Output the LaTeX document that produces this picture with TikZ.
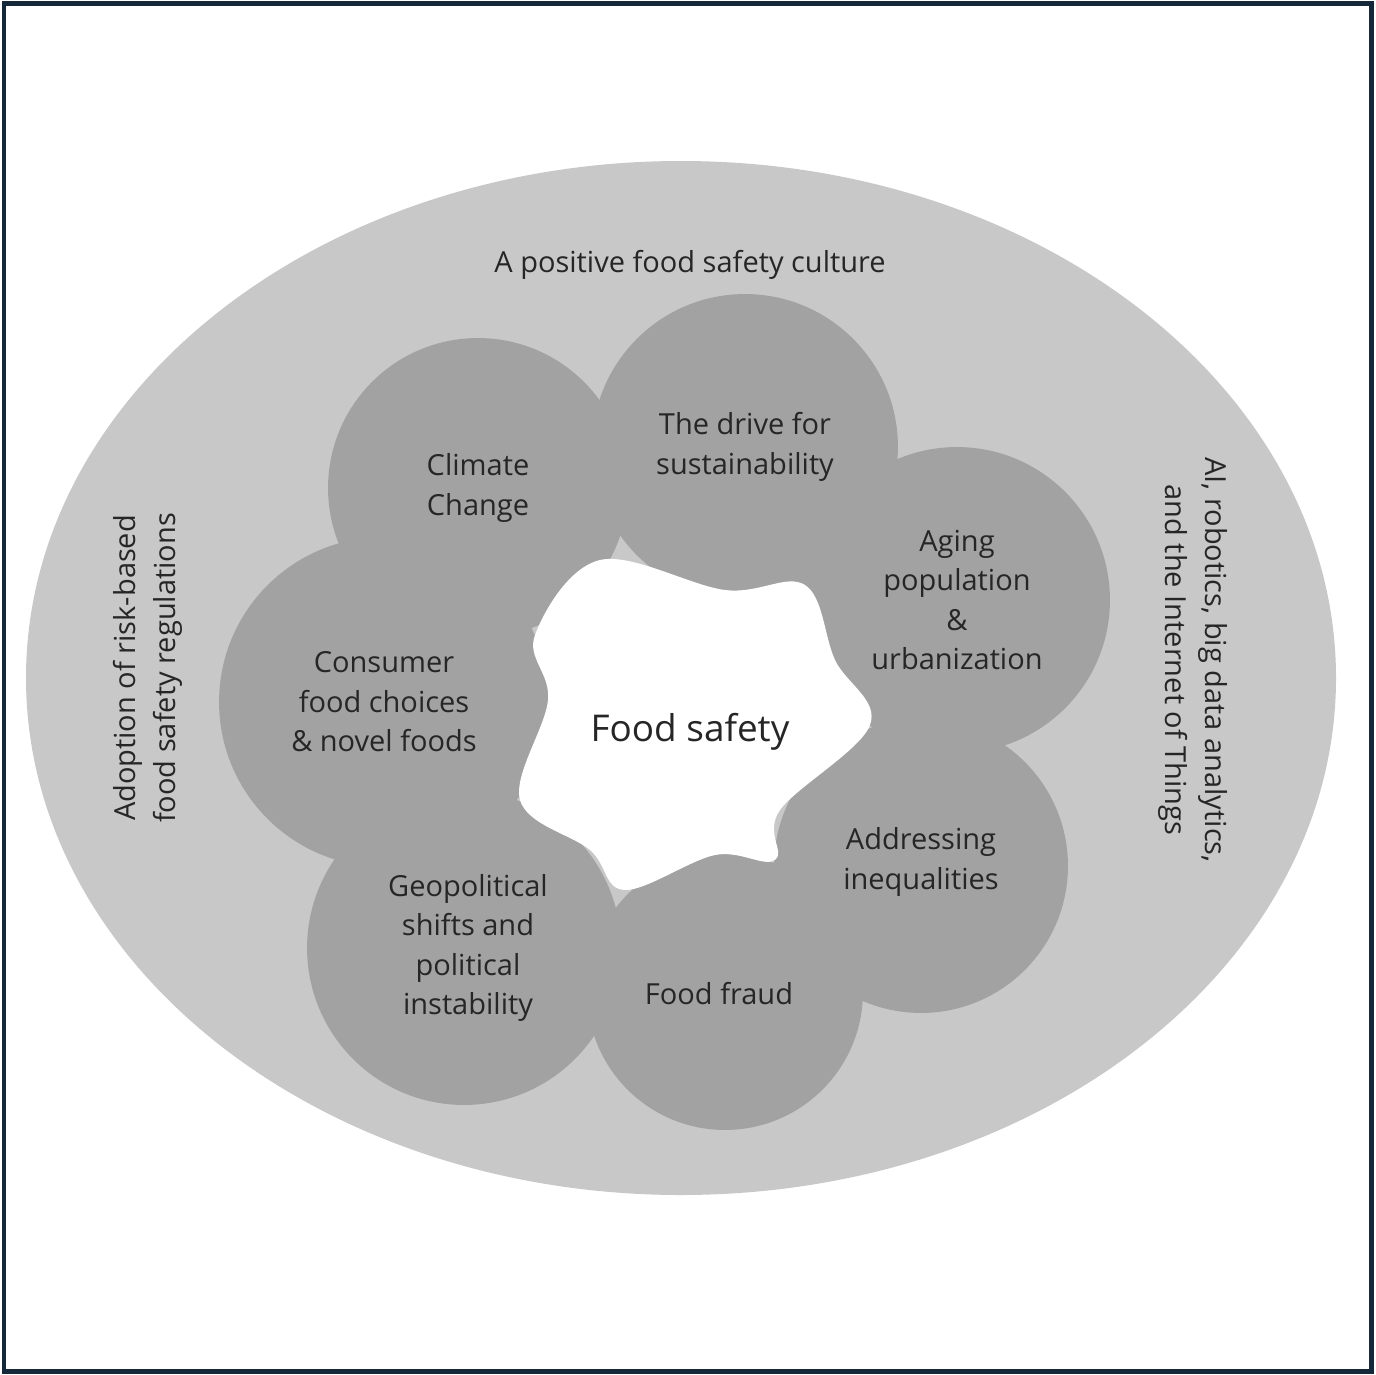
\documentclass[tikz,border=0pt]{standalone}
\usepackage{fontspec}
\setmainfont{Open Sans}
\begin{document}
\begin{tikzpicture}[x=0.02cm,y=-0.02cm,
  circ/.style={circle,fill=cdark,draw=none,minimum size=#1*0.04cm,inner sep=0pt},
  lab/.style={align=center,font=\fontsize{16.5}{22.5}\selectfont,text=black!85}]
\definecolor{cdark}{HTML}{A2A2A2}
\definecolor{clight}{HTML}{C8C8C8}
\definecolor{navy}{HTML}{14283A}
\useasboundingbox (0,0) rectangle (1375,1375);
\draw[navy,line width=0.1cm] (4,4) rectangle (1371,1371);
\fill[clight] (681,678) ellipse [x radius=655, y radius=517];
\node[circ=150] (c1) at (478,488) {};
\node[circ=153] (c2) at (745,447) {};
\node[circ=153] (c3) at (957,600) {};
\node[circ=147] (c4) at (921,866) {};
\node[circ=138] (c5) at (725,992) {};
\node[circ=157] (c6) at (464,948) {};
\node[circ=165] (c7) at (384,702) {};
\fill[white] plot[smooth cycle,tension=0.6] coordinates{(600,560)(725,590)(805,585)(835,660)(870,725)(780,810)(775,860)(715,855)(625,890)(590,850)(520,800)(548,700)(535,635)};
\node[lab] at (c1) {Climate\\Change};
\node[lab] at (c2) {The drive for\\sustainability};
\node[lab] at (c3) {Aging\\population\\\&\\urbanization};
\node[lab] at (921,862) {Addressing\\inequalities};
\node[lab] at (719,994) {Food fraud};
\node[lab] at (468,948) {Geopolitical\\shifts and\\political\\instability};
\node[lab] at (384,702) {Consumer\\food choices\\\& novel foods};
\node[lab,font=\fontsize{21}{26}\selectfont] (fs) at (690,732) {Food safety};
\node[lab] (t) at (690,265) {A positive food safety culture};
\node[lab,rotate=90] (l) at (148,668) {Adoption of risk-based\\food safety regulations};
\node[lab,rotate=-90] (r) at (1193,660) {AI, robotics, big data analytics,\\and the Internet of Things};
\end{tikzpicture}
\end{document}
